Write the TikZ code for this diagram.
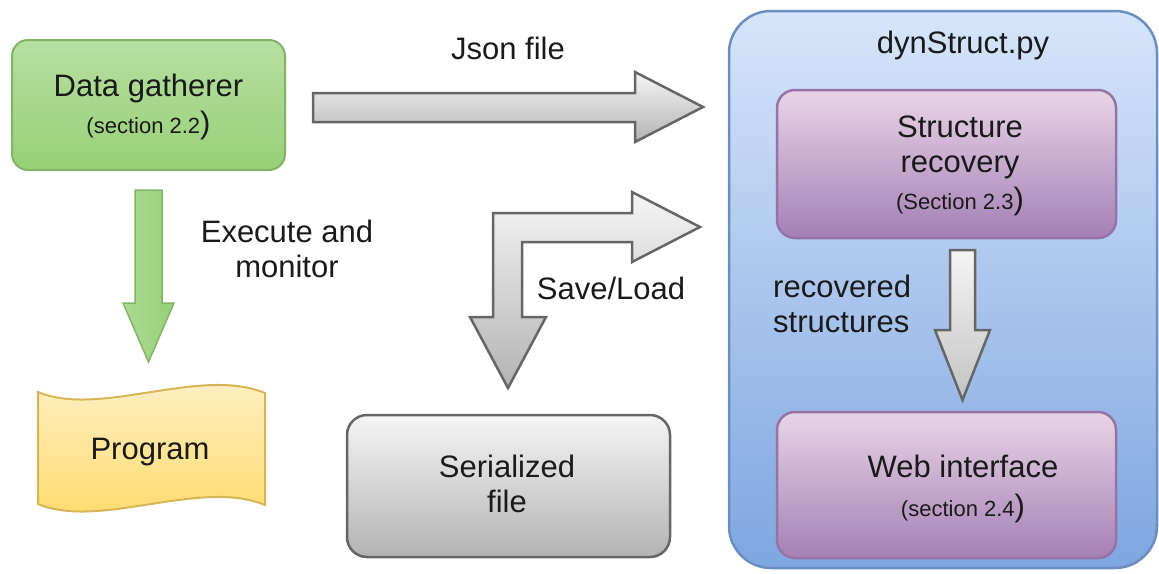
\documentclass[tikz,border=0pt]{standalone}
\usepackage{fontspec}
\setmainfont{Liberation Sans}
\definecolor{txtc}{HTML}{1A1A1A}
\definecolor{gtop}{HTML}{B7DFA2}
\definecolor{gbot}{HTML}{97D077}
\definecolor{gline}{HTML}{82B366}
\definecolor{ytop}{HTML}{FFF2CC}
\definecolor{ybot}{HTML}{FFD966}
\definecolor{yline}{HTML}{D6B656}
\definecolor{btop}{HTML}{D6E5FA}
\definecolor{bbot}{HTML}{7EA6E0}
\definecolor{bline}{HTML}{6C8EBF}
\definecolor{ptop}{HTML}{E8D4E6}
\definecolor{pbot}{HTML}{A47FB5}
\definecolor{pline}{HTML}{9673A6}
\definecolor{stop}{HTML}{F5F5F5}
\definecolor{sbot}{HTML}{B3B3B3}
\definecolor{sline}{HTML}{666666}
\begin{document}
\begin{tikzpicture}[x=1pt,y=-1pt,
  txt/.style={text=txtc, font=\fontsize{31}{35}\selectfont, inner sep=0pt},
  boxbase/.style={inner sep=0pt, rectangle},
  greenbox/.style={boxbase, draw=gline, line width=2pt, rounded corners=16pt, top color=gtop, bottom color=gbot},
  graybox/.style={boxbase, draw=sline, line width=2.5pt, rounded corners=20pt, top color=stop, bottom color=sbot},
  bluebox/.style={boxbase, draw=bline, line width=2.5pt, rounded corners=42pt, top color=btop, bottom color=bbot},
  purplebox/.style={boxbase, draw=pline, line width=2.5pt, rounded corners=18pt, top color=ptop, bottom color=pbot},
  progshape/.style={draw=yline, line width=2pt, top color=ytop, bottom color=ybot},
  grayarrow/.style={draw=sline, line width=2.5pt, line join=miter, top color=stop, bottom color=sbot},
  greenarrow/.style={draw=gline, line width=1.5pt, line join=miter, left color=gbot!80!white, right color=gbot},
]
\useasboundingbox (0,0) rectangle (1159,573);

% container
\node[bluebox, minimum width=428pt, minimum height=557pt] (dyn) at (943,289.5) {};
\node[txt] (dyntxt) at (963,45) {dynStruct.py};

% boxes
\node[greenbox, minimum width=273pt, minimum height=130pt] (gather) at (148.5,105) {};
\node[txt, align=center] (gathertxt) at (148.5,107) {Data gatherer\\[2pt]{\fontsize{22}{26}\selectfont(section 2.2})};

\node[graybox, minimum width=323pt, minimum height=142pt] (serial) at (508.5,486) {};
\node[txt, align=center] (serialtxt) at (507,484) {Serialized\\file};

\node[purplebox, minimum width=339pt, minimum height=148pt] (recov) at (946.5,164) {};
\node[txt, align=center] (recovtxt) at (960,166) {Structure\\recovery\\[2pt]{\fontsize{22}{26}\selectfont(Section 2.3})};

\node[purplebox, minimum width=339pt, minimum height=146pt] (web) at (946.5,485) {};
\node[txt, align=center] (webtxt) at (963,489) {Web interface\\[4pt]{\fontsize{22}{26}\selectfont(section 2.4})};

% program (tape shape)
\path[progshape] (38,392) .. controls (100,418) and (200,366) .. (265,393)
  -- (265,505) .. controls (200,478) and (100,530) .. (38,504) -- cycle;
\node[txt] (program) at (150,452) {Program};

% Json file arrow
\path[grayarrow] (313,93) -- (635,93) -- (635,72) -- (703,107) -- (635,142) -- (635,122) -- (313,122) -- cycle;
\node[txt] (jsonlbl) at (508,48) {Json file};

% Save/Load arrow
\path[grayarrow] (493,213) -- (632,213) -- (632,192) -- (700,227) -- (632,262) -- (632,242)
  -- (522,242) -- (522,317) -- (546,317) -- (508,388) -- (470,317) -- (493,317) -- cycle;
\node[txt] (savelbl) at (611,288) {Save/Load};

% green arrow
\path[greenarrow] (135,190) -- (162,190) -- (162,303) -- (174,303) -- (148.5,362) -- (123,303) -- (135,303) -- cycle;
\node[txt, align=center] (execlbl) at (287,249) {Execute and\\monitor};

% recovered arrow
\path[grayarrow, top color=stop, bottom color=sbot!80!white] (950,250) -- (975,250) -- (975,330) -- (990,330) -- (962.5,400) -- (935,330) -- (950,330) -- cycle;
\node[txt, align=left, anchor=west] (reclbl) at (773,304) {recovered\\structures};
\end{tikzpicture}
\end{document}
